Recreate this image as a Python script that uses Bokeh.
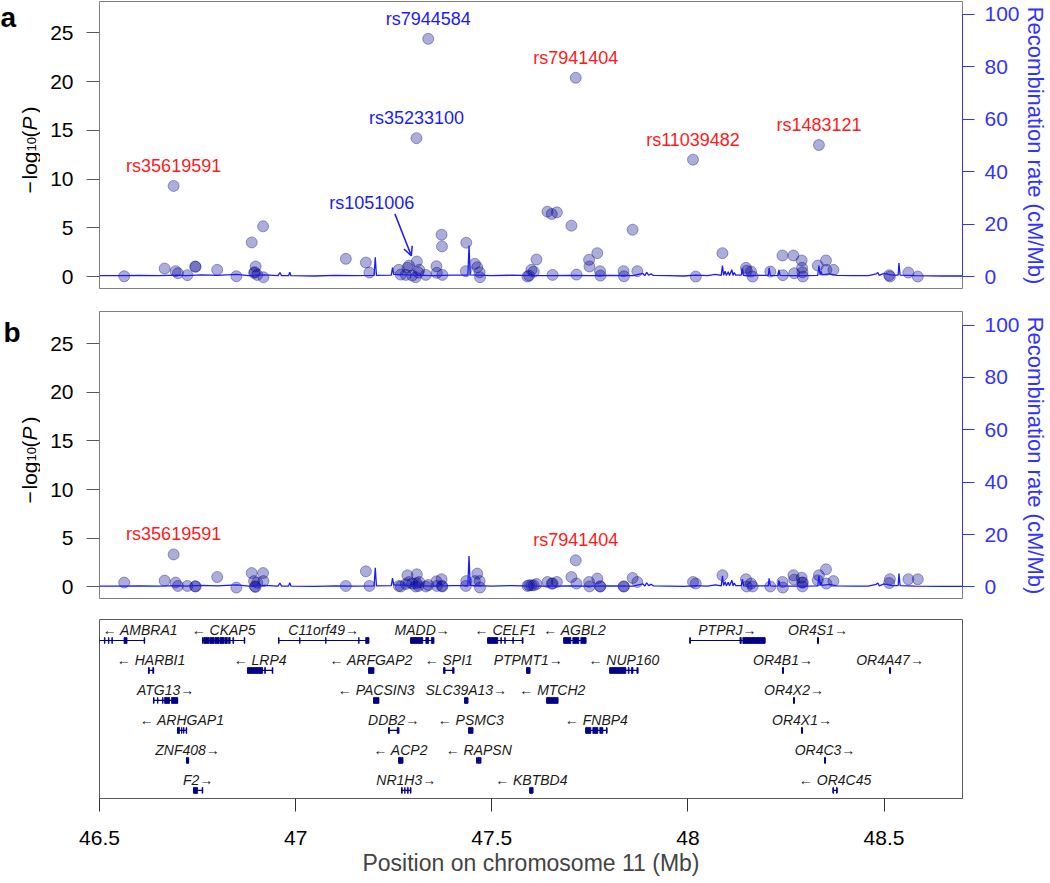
import math
from bokeh.plotting import figure
from bokeh.models import (Range1d, LinearAxis, FixedTicker, Arrow, OpenHead,
                          CustomJSTickFormatter)
from bokeh.layouts import column, row
from bokeh.embed import file_html
from bokeh.resources import INLINE
from bokeh.core.properties import value

FONT = "Liberation Sans"
BLUE = "#1a1aff"
AXBLUE = "#3333ff"
RED = "#ff1a1a"
NAVY = "#00008B"

# ---------------- data ----------------
x_ticks = [46.5, 47, 47.5, 48, 48.5]
logp_ticks = [0, 5, 10, 15, 20, 25]
rec_ticks = [0, 20, 40, 60, 80, 100]

snp_pos = [46.563, 46.666, 46.689, 46.694, 46.700, 46.724, 46.744, 46.745, 46.800, 46.849,
           46.888, 46.894, 46.896, 46.898, 46.902, 46.917, 46.918, 47.128, 47.179, 47.188,
           47.263, 47.268, 47.281, 47.285, 47.289, 47.297, 47.306, 47.308, 47.309, 47.313,
           47.315, 47.332, 47.338, 47.359, 47.360, 47.372, 47.373, 47.374, 47.434, 47.435,
           47.457, 47.463, 47.469, 47.470, 47.591, 47.595, 47.601, 47.607, 47.614, 47.642,
           47.653, 47.655, 47.666, 47.703, 47.714, 47.716, 47.748, 47.749, 47.769, 47.776,
           47.777, 47.836, 47.837, 47.859, 47.871, 48.013, 48.020, 48.088, 48.148, 48.150,
           48.161, 48.165, 48.210, 48.241, 48.242, 48.269, 48.271, 48.290, 48.291, 48.292,
           48.293, 48.331, 48.334, 48.352, 48.353, 48.371, 48.513, 48.515, 48.562, 48.586]

logp_a = [0.03, 0.82, 9.3, 0.55, 0.34, 0.14, 1.03, 1.0, 0.69, 0.03,
          3.5, 0.38, 0.45, 1.03, 0.17, 5.15, -0.07, 1.82, 1.44, 0.41,
          0.69, 0.2, 0.17, 0.9, 1.13, 0.1, -0.07, 14.2, 1.54, 0.4,
          0.69, 0.17, 24.4, 1.06, 0.38, 4.29, 3.09, 0.17, 0.55, 3.47,
          1.31, 0.96, 0.44, -0.07, 0.0, 0.1, 0.69, 0.5, 1.75, 6.66,
          6.42, 0.17, 6.59, 5.22, 20.4, 0.2, 1.72, 1.03, 2.4, 0.55,
          0.1, 0.55, 0.03, 4.81, 0.55, 12.0, 0.0, 2.4, 0.89, 0.6,
          0.51, 0.0, 0.51, 2.16, 0.14, 2.16, 0.34, 1.65, 0.89, 0.44,
          0.0, 1.13, 13.5, 1.65, 0.69, 0.69, 0.14, 0.0, 0.41, 0.0]

logp_b = [0.45, 0.65, 3.34, 0.45, 0.1, 0.1, 0.07, 0.05, 1.02, -0.06,
          1.43, 0.6, 0.05, 0.0, 0.45, 1.43, 0.6, 0.1, 1.6, 0.1,
          0.1, 0.05, 0.3, 1.2, 0.5, 0.35, 0.05, 0.4, 1.3, 0.1,
          0.5, 0.05, 0.2, 0.58, 0.1, 0.79, 0.1, 0.05, 0.1, 0.6,
          0.6, 1.37, 0.6, -0.06, 0.1, 0.17, 0.17, 0.17, 0.3, 0.51,
          0.35, 0.35, 0.51, 1.02, 2.73, 0.35, 0.51, 0.05, 0.86, 0.05,
          0.05, 0.05, 0.05, 0.92, 0.51, 0.51, 0.35, 1.2, 0.79, 0.05,
          0.35, 0.05, 0.05, 0.51, -0.06, 1.2, 0.75, 0.95, 0.45, 0.05,
          0.45, 0.68, 1.2, 1.81, 0.35, 0.6, 0.4, 0.8, 0.79, 0.79]

recomb_pos = [46.50, 46.55, 46.60, 46.65, 46.70, 46.72, 46.76, 46.80, 46.85, 46.88,
              46.92, 46.955, 46.960, 46.964, 46.982, 46.985, 46.988, 47.05, 47.10, 47.15,
              47.200, 47.203, 47.206, 47.244, 47.247, 47.250, 47.30, 47.35, 47.40, 47.439,
              47.442, 47.445, 47.50, 47.55, 47.60, 47.65, 47.70, 47.75, 47.80, 47.86,
              47.885, 47.890, 47.895, 47.900, 47.906, 47.912, 47.95, 47.99, 48.02, 48.05,
              48.07, 48.085, 48.088, 48.091, 48.095, 48.098, 48.103, 48.106, 48.112, 48.115,
              48.118, 48.122, 48.136, 48.139, 48.142, 48.15, 48.18, 48.205, 48.207, 48.210,
              48.22, 48.230, 48.232, 48.235, 48.26, 48.30, 48.331, 48.334, 48.337, 48.339,
              48.342, 48.36, 48.38, 48.42, 48.46, 48.48, 48.484, 48.488, 48.50, 48.52,
              48.536, 48.538, 48.541, 48.58, 48.65, 48.70]
recomb_rate = [0.3, 0.3, 0.4, 0.3, 0.5, 0.3, 0.6, 0.4, 0.8, 0.3,
               0.6, 0.3, 1.5, 0.3, 0.3, 1.6, 0.3, 0.2, 0.4, 0.3,
               0.4, 7.3, 0.4, 0.5, 3.4, 0.8, 0.5, 0.3, 0.5, 0.5,
               11.8, 0.6, 0.3, 0.5, 0.3, 0.3, 0.4, 0.3, 0.4, 0.3,
               1.2, 0.3, 1.6, 0.5, 1.0, 0.4, 0.3, 0.2, 0.5, 0.3,
               0.8, 0.4, 4.2, 0.5, 2.0, 0.4, 1.8, 0.4, 2.6, 0.4,
               1.5, 0.5, 0.5, 3.0, 0.4, 0.3, 0.4, 0.4, 3.3, 0.4,
               0.3, 0.4, 2.5, 0.4, 0.3, 0.3, 0.4, 4.2, 0.5, 2.0,
               0.6, 1.0, 0.4, 0.3, 0.3, 1.0, 1.5, 0.4, 1.2, 0.5,
               0.5, 5.1, 0.5, 0.3, 0.2, 0.2]

snp_label_names = ["rs35619591", "rs35233100", "rs7944584", "rs7941404", "rs11039482", "rs1483121", "rs1051006"]
snp_label_pos = [46.689, 47.308, 47.338, 47.714, 48.013, 48.334, 47.289]
snp_label_colors = [RED, BLUE, BLUE, RED, RED, RED, BLUE]
panel_a_labels = ["rs35619591", "rs35233100", "rs7944584", "rs7941404", "rs11039482", "rs1483121"]
panel_b_labels = ["rs35619591", "rs7941404"]
arrow_label = "rs1051006"

gene_names = ["AMBRA1", "CKAP5", "C11orf49", "MADD", "CELF1", "AGBL2", "PTPRJ", "OR4S1",
              "HARBI1", "LRP4", "ARFGAP2", "SPI1", "PTPMT1", "NUP160", "OR4B1", "OR4A47",
              "ATG13", "PACSIN3", "SLC39A13", "MTCH2", "OR4X2",
              "ARHGAP1", "DDB2", "PSMC3", "FNBP4", "OR4X1",
              "ZNF408", "ACP2", "RAPSN", "OR4C3",
              "F2", "NR1H3", "KBTBD4", "OR4C45"]
gene_start = [46.4990, 46.7628, 46.9566, 47.2934, 47.4898, 47.6837, 48.0051, 48.3306,
              46.6250, 46.8776, 47.1862, 47.3776, 47.5890, 47.8010, 48.2413, 48.5143,
              46.6378, 47.1990, 47.4311, 47.6403, 48.2694,
              46.6990, 47.2372, 47.4413, 47.7398, 48.2898,
              46.7219, 47.2628, 47.4617, 48.3485,
              46.7398, 47.2704, 47.5970, 48.3700]
gene_end = [46.6148, 46.8699, 47.1862, 47.3520, 47.5790, 47.7398, 48.1964, 48.3326,
            46.6378, 46.9413, 47.1990, 47.4031, 47.5970, 47.8724, 48.2433, 48.5163,
            46.6990, 47.2117, 47.4388, 47.6684, 48.2714,
            46.7219, 47.2628, 47.4515, 47.7934, 48.2918,
            46.7270, 47.2730, 47.4719, 48.3505,
            46.7628, 47.2934, 47.6046, 48.3802]
gene_strand = [-1, -1, 1, 1, -1, -1, 1, 1,
               -1, -1, -1, -1, 1, -1, 1, 1,
               1, -1, 1, -1, 1,
               -1, 1, -1, -1, 1,
               1, -1, -1, 1,
               1, 1, -1, -1]
gene_row = [1, 1, 1, 1, 1, 1, 1, 1,
            2, 2, 2, 2, 2, 2, 2, 2,
            3, 3, 3, 3, 3,
            4, 4, 4, 4, 4,
            5, 5, 5, 5,
            6, 6, 6, 6]
gene_exons = {
    "AMBRA1": [(46.5125, 46.5140), (46.5227, 46.5242), (46.5314, 46.5329), (46.5625, 46.5702), (46.6138, 46.6148)],
    "CKAP5": [(46.7628, 46.7640), (46.7660, 46.7790), (46.7810, 46.7920), (46.7940, 46.8050), (46.8070, 46.8180),
              (46.8200, 46.8260), (46.8290, 46.8330), (46.8400, 46.8420), (46.8689, 46.8699)],
    "C11orf49": [(46.9566, 46.9576), (47.0102, 47.0112), (47.0765, 47.0775), (47.1607, 47.1617), (47.1786, 47.1862)],
    "MADD": [(47.2934, 47.3240), (47.3320, 47.3390), (47.3460, 47.3520)],
    "CELF1": [(47.4898, 47.5153), (47.5230, 47.5245), (47.5330, 47.5345), (47.5536, 47.5551), (47.5775, 47.5790)],
    "AGBL2": [(47.6837, 47.7015), (47.7066, 47.7219), (47.7270, 47.7398)],
    "PTPRJ": [(48.0051, 48.0061), (48.1327, 48.1360), (48.1400, 48.1964)],
    "OR4S1": [(48.3306, 48.3326)],
    "HARBI1": [(46.6250, 46.6270), (46.6358, 46.6378)],
    "LRP4": [(46.8776, 46.9158), (46.9210, 46.9230), (46.9403, 46.9413)],
    "ARFGAP2": [(47.1862, 47.1990)],
    "SPI1": [(47.3776, 47.3810), (47.4000, 47.4031)],
    "PTPMT1": [(47.5890, 47.5970)],
    "NUP160": [(47.8010, 47.8418), (47.8480, 47.8500), (47.8560, 47.8600), (47.8700, 47.8724)],
    "OR4B1": [(48.2413, 48.2433)],
    "OR4A47": [(48.5143, 48.5163)],
    "ATG13": [(46.6378, 46.6390), (46.6480, 46.6490), (46.6608, 46.6620), (46.6660, 46.6786), (46.6837, 46.6990)],
    "PACSIN3": [(47.1990, 47.2117)],
    "SLC39A13": [(47.4311, 47.4388)],
    "MTCH2": [(47.6403, 47.6684)],
    "OR4X2": [(48.2694, 48.2714)],
    "ARHGAP1": [(46.6990, 46.7041), (46.7092, 46.7102), (46.7143, 46.7153), (46.7209, 46.7219)],
    "DDB2": [(47.2372, 47.2390), (47.2590, 47.2628)],
    "PSMC3": [(47.4413, 47.4515)],
    "FNBP4": [(47.7398, 47.7525), (47.7577, 47.7704), (47.7755, 47.7832), (47.7924, 47.7934)],
    "OR4X1": [(48.2898, 48.2918)],
    "ZNF408": [(46.7219, 46.7270)],
    "ACP2": [(47.2628, 47.2730)],
    "RAPSN": [(47.4617, 47.4630), (47.4650, 47.4690), (47.4709, 47.4719)],
    "OR4C3": [(48.3485, 48.3505)],
    "F2": [(46.7398, 46.7500), (46.7618, 46.7628)],
    "NR1H3": [(47.2704, 47.2714), (47.2780, 47.2790), (47.2850, 47.2870), (47.2924, 47.2934)],
    "KBTBD4": [(47.5970, 47.6046)],
    "OR4C45": [(48.3700, 48.3710), (48.3792, 48.3802)],
}

# ---------------- layout constants ----------------
X_LO, X_HI = 46.5, 48.70
FRAME_W = 863
STRIP_W = 40
BORDER_L = 99
BORDER_R = 86

xr = Range1d(X_LO, X_HI)


def style_common(p):
    p.outline_line_color = "#7f7f7f"
    p.outline_line_width = 1
    p.xgrid.visible = False
    p.ygrid.visible = False
    p.background_fill_color = "white"
    p.border_fill_color = "white"


def side_strip(frame_h, top_border, letter, letter_x, letter_base):
    """Left strip holding the panel letter and the y-axis title (−log10(P))."""
    s = figure(frame_width=STRIP_W, frame_height=frame_h, x_range=Range1d(0, STRIP_W),
               y_range=Range1d(frame_h, 0), x_axis_location=None, y_axis_location=None,
               output_backend="svg", toolbar_location=None, min_border=0,
               min_border_left=0, min_border_right=0, min_border_top=top_border, min_border_bottom=0)
    s.outline_line_color = None
    s.grid.visible = False
    s.background_fill_color = "white"
    s.border_fill_color = "white"
    s.text(x=[letter_x], y=[letter_base], text=[letter], text_font=value(FONT), text_font_size="28px",
           text_font_style="bold", text_color="black", text_align="left", text_baseline="alphabetic")
    c = frame_h / 2
    ang = math.pi / 2
    pieces = [("−", 29, c + 48, "21px", "normal"),
              ("log", 29, c + 34, "21px", "normal"),
              ("10", 31, c + 6, "13px", "normal"),
              ("(", 29, c - 8, "21px", "normal"),
              ("P", 29, c - 15, "21px", "italic"),
              (")", 29, c - 32, "21px", "normal")]
    for t, px, py, fs, st in pieces:
        s.text(x=[px], y=[py], text=[t], angle=ang, text_font=value(FONT), text_font_size=fs,
               text_font_style=st, text_color="black", text_align="left", text_baseline="alphabetic")
    return s


def assoc_panel(frame_h, top_border, y_lo, y_hi, r_lo, r_hi, vals, label_list, with_arrow):
    p = figure(frame_width=FRAME_W, frame_height=frame_h, x_range=xr, y_range=Range1d(y_lo, y_hi),
               x_axis_location=None, output_backend="svg", toolbar_location=None,
               min_border_left=BORDER_L - STRIP_W, min_border_right=BORDER_R,
               min_border_top=top_border, min_border_bottom=0)
    style_common(p)
    ax = p.yaxis[0]
    ax.ticker = FixedTicker(ticks=logp_ticks)
    ax.bounds = (0, 25)
    ax.major_label_text_font = FONT
    ax.major_label_text_font_size = "21px"
    ax.major_label_text_color = "black"
    ax.major_label_standoff = 13
    ax.major_tick_out = 13
    ax.major_tick_in = 0
    ax.minor_tick_out = 0
    ax.minor_tick_in = 0
    ax.major_tick_line_color = "#555555"
    ax.axis_line_color = "#7f7f7f"

    p.extra_y_ranges = {"rec": Range1d(r_lo, r_hi)}
    rax = LinearAxis(y_range_name="rec", ticker=FixedTicker(ticks=rec_ticks), bounds=(0, 100),
                     axis_label="Recombination rate (cM/Mb)")
    rax.axis_label_text_font = FONT
    rax.axis_label_text_font_size = "22px"
    rax.axis_label_text_font_style = "normal"
    rax.axis_label_text_color = AXBLUE
    rax.axis_label_standoff = 0
    rax.major_label_text_font = FONT
    rax.major_label_text_font_size = "21px"
    rax.major_label_text_color = AXBLUE
    rax.major_label_standoff = 10
    rax.major_tick_out = 12
    rax.major_tick_in = 0
    rax.minor_tick_out = 0
    rax.minor_tick_in = 0
    rax.major_tick_line_color = AXBLUE
    rax.axis_line_color = AXBLUE
    p.add_layout(rax, "right")

    p.scatter(snp_pos, vals, size=11, marker="circle", fill_color=NAVY, fill_alpha=0.32,
              line_color=NAVY, line_alpha=0.45, line_width=0.8)
    p.line(recomb_pos, recomb_rate, y_range_name="rec", line_color=BLUE, line_width=1.3)

    lx, ly, lt, lc = [], [], [], []
    for name in label_list:
        k = snp_label_names.index(name)
        pos = snp_label_pos[k]
        lx.append(pos)
        ly.append(vals[snp_pos.index(pos)])
        lt.append(name)
        lc.append(snp_label_colors[k])
    p.text(x=lx, y=ly, text=lt, text_color=lc, text_font=value(FONT), text_font_size="18px",
           text_align="center", text_baseline="middle", y_offset=-20)

    if with_arrow:
        k = snp_label_names.index(arrow_label)
        ax_x = snp_label_pos[k]
        ax_y = vals[snp_pos.index(ax_x)]
        p.text(x=[ax_x - 0.095], y=[ax_y + 6.4], text=[arrow_label], text_color=[snp_label_colors[k]],
               text_font=value(FONT), text_font_size="18px", text_align="center", text_baseline="middle")
        p.add_layout(Arrow(end=OpenHead(size=9, line_color=BLUE, line_width=1.5),
                           x_start=ax_x - 0.036, y_start=ax_y + 5.3,
                           x_end=ax_x + 0.006, y_end=ax_y + 1.0,
                           line_color=BLUE, line_width=1.5))
    return p


sa = side_strip(288, 1, "a", 0, 16)
pa = assoc_panel(288, 1, -1.33, 28.23, -4.96, 104.96, logp_a, panel_a_labels, True)
sb = side_strip(288, 22, "b", 3, 21)
pb = assoc_panel(288, 22, -1.29, 28.3, -4.8, 105.2, logp_b, panel_b_labels, False)

# ---------------- gene panel ----------------
pc = figure(frame_width=FRAME_W, frame_height=179, x_range=xr, y_range=Range1d(6.27, 0.3),
            y_axis_location=None, output_backend="svg", toolbar_location=None,
            min_border_left=BORDER_L, min_border_right=BORDER_R, min_border_top=20, min_border_bottom=84)
style_common(pc)
pc.outline_line_color = "#5a5a5a"
xa = pc.xaxis[0]
xa.ticker = FixedTicker(ticks=x_ticks)
xa.formatter = CustomJSTickFormatter(code="return String(tick);")
xa.axis_label = "Position on chromosome 11 (Mb)"
xa.axis_label_text_font = FONT
xa.axis_label_text_font_size = "23px"
xa.axis_label_text_font_style = "normal"
xa.axis_label_standoff = 2
xa.major_label_text_font = FONT
xa.major_label_text_font_size = "21px"
xa.major_label_text_color = "black"
xa.major_label_standoff = 19
xa.major_tick_out = 13
xa.major_tick_in = 0
xa.minor_tick_out = 0
xa.minor_tick_in = 0
xa.major_tick_line_color = "#333333"
xa.axis_line_color = "#5a5a5a"

pc.segment(x0=gene_start, y0=gene_row, x1=gene_end, y1=gene_row, line_color=NAVY, line_width=1.2)
pc.segment(x0=gene_start, y0=[r - 0.09 for r in gene_row], x1=gene_start, y1=[r + 0.09 for r in gene_row],
           line_color=NAVY, line_width=1.2)
pc.segment(x0=gene_end, y0=[r - 0.09 for r in gene_row], x1=gene_end, y1=[r + 0.09 for r in gene_row],
           line_color=NAVY, line_width=1.2)
el, er, et, eb = [], [], [], []
for name, rw in zip(gene_names, gene_row):
    for s0, e0 in gene_exons[name]:
        el.append(s0)
        er.append(e0)
        et.append(rw - 0.1)
        eb.append(rw + 0.1)
pc.quad(left=el, right=er, top=et, bottom=eb, fill_color=NAVY, line_color=NAVY, line_width=0.8)

cx, cy, ct, lx2, ly2, lt2 = [], [], [], [], [], []
for name, s0, e0, st, rw in zip(gene_names, gene_start, gene_end, gene_strand, gene_row):
    txt = ("← " + name) if st < 0 else (name + "→")
    if s0 <= X_LO:
        lx2.append(X_LO + 0.008)
        ly2.append(rw - 0.34)
        lt2.append(txt)
    else:
        cx.append((s0 + e0) / 2)
        cy.append(rw - 0.34)
        ct.append(txt)
pc.text(x=cx, y=cy, text=ct, text_font=value(FONT), text_font_size="14px", text_font_style="italic",
        text_color="#1a1a1a", text_align="center", text_baseline="middle")
pc.text(x=lx2, y=ly2, text=lt2, text_font=value(FONT), text_font_size="14px", text_font_style="italic",
        text_color="#1a1a1a", text_align="left", text_baseline="middle")

layout = column(row(sa, pa, spacing=0), row(sb, pb, spacing=0), pc, spacing=0)
open("out.html", "w").write(file_html(layout, INLINE, title="Regional association plot"))
